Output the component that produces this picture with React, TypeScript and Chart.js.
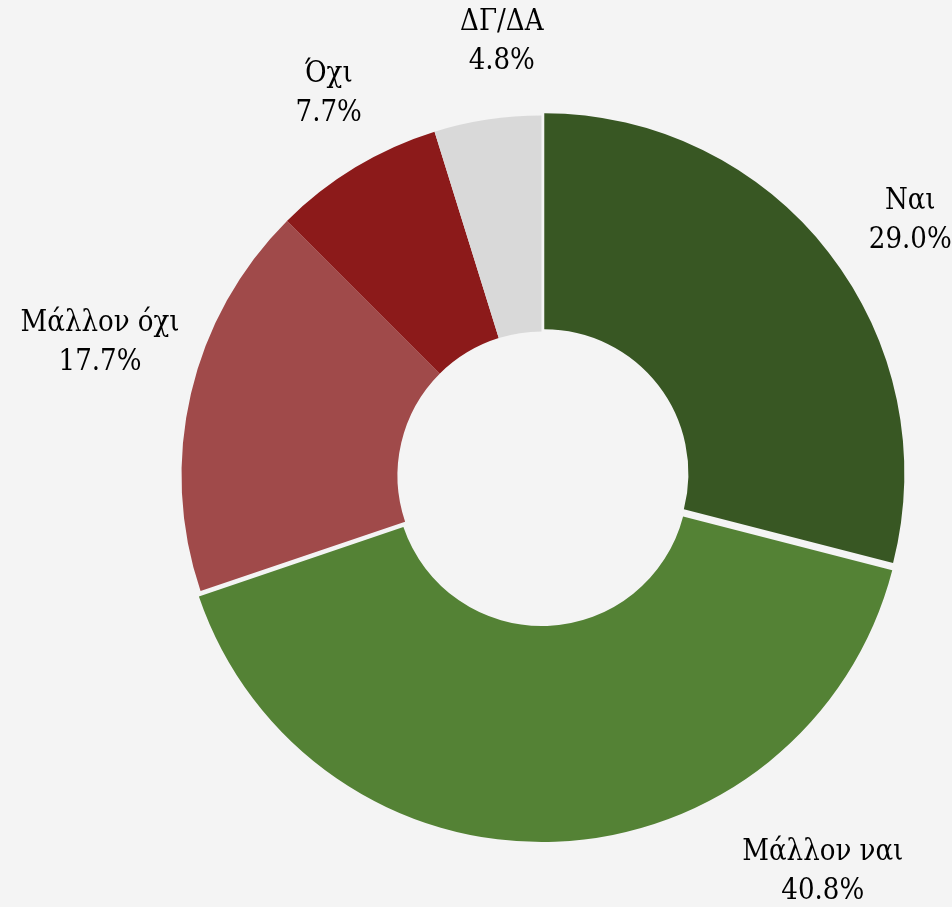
import React, { useEffect, useRef } from 'react';
import { Chart, registerables } from 'chart.js';

Chart.register(...registerables);

const categories = ['Ναι', 'Μάλλον ναι', 'Μάλλον όχι', 'Όχι', 'ΔΓ/ΔΑ'];
const values = [29.0, 40.8, 17.7, 7.7, 4.8];
const colors = ['#385723', '#548235', '#a04a4a', '#8c1a1a', '#d9d9d9'];
const explode = [14, 18, 0, 0, 0];

const BG = '#f4f4f4';

const labelPlugin = {
  id: 'outLabels',
  afterDatasetsDraw(chart: any, _args: any, opts: any) {
    const ctx = chart.ctx;
    const meta = chart.getDatasetMeta(0);
    ctx.save();
    ctx.font = opts.font;
    try { (ctx as any).fontStretch = opts.stretch; } catch (e) {}
    ctx.fillStyle = opts.color;
    ctx.textAlign = 'center';
    ctx.textBaseline = 'middle';
    meta.data.forEach((arc: any, i: number) => {
      const p = arc.getProps(['x', 'y', 'startAngle', 'endAngle', 'outerRadius'], true);
      const a = (p.startAngle + p.endAngle) / 2 + (opts.angleShift[i] * Math.PI) / 180;
      const d = p.outerRadius + opts.gap[i];
      const cx = p.x + Math.cos(a) * d;
      const cy = p.y + Math.sin(a) * d;
      ctx.fillText(String(chart.data.labels[i]), cx, cy - opts.lineHeight / 2);
      ctx.fillText(values[i].toFixed(1) + '%', cx, cy + opts.lineHeight / 2);
    });
    ctx.restore();
  },
};

export default function App() {
  const ref = useRef<HTMLCanvasElement>(null);
  useEffect(() => {
    document.body.style.margin = '0';
    document.body.style.background = BG;
    const chart = new Chart(ref.current as HTMLCanvasElement, {
      type: 'doughnut',
      data: {
        labels: categories,
        datasets: [
          {
            data: values,
            backgroundColor: colors,
            borderWidth: 0,
            offset: explode,
            hoverOffset: 0,
            radius: 360,
          } as any,
        ],
      },
      options: {
        responsive: false,
        animation: false,
        events: [],
        cutout: '40%',
        layout: { padding: { left: 141, right: 10, top: 54, bottom: 10 } },
        plugins: {
          legend: { display: false },
          tooltip: { enabled: false },
          outLabels: {
            font: '29px "DejaVu Serif"',
            stretch: 'condensed',
            color: '#000000',
            lineHeight: 39,
            angleShift: [3.2, -33.2, 3.6, 2.0, 3.4],
            gap: [88, 126, 101, 77, 75],
          },
        } as any,
      },
      plugins: [labelPlugin],
    });
    return () => chart.destroy();
  }, []);
  return (
    <div style={{ width: 952, height: 907, background: BG }}>
      <canvas ref={ref} width={952} height={907} style={{ display: 'block' }} />
    </div>
  );
}
